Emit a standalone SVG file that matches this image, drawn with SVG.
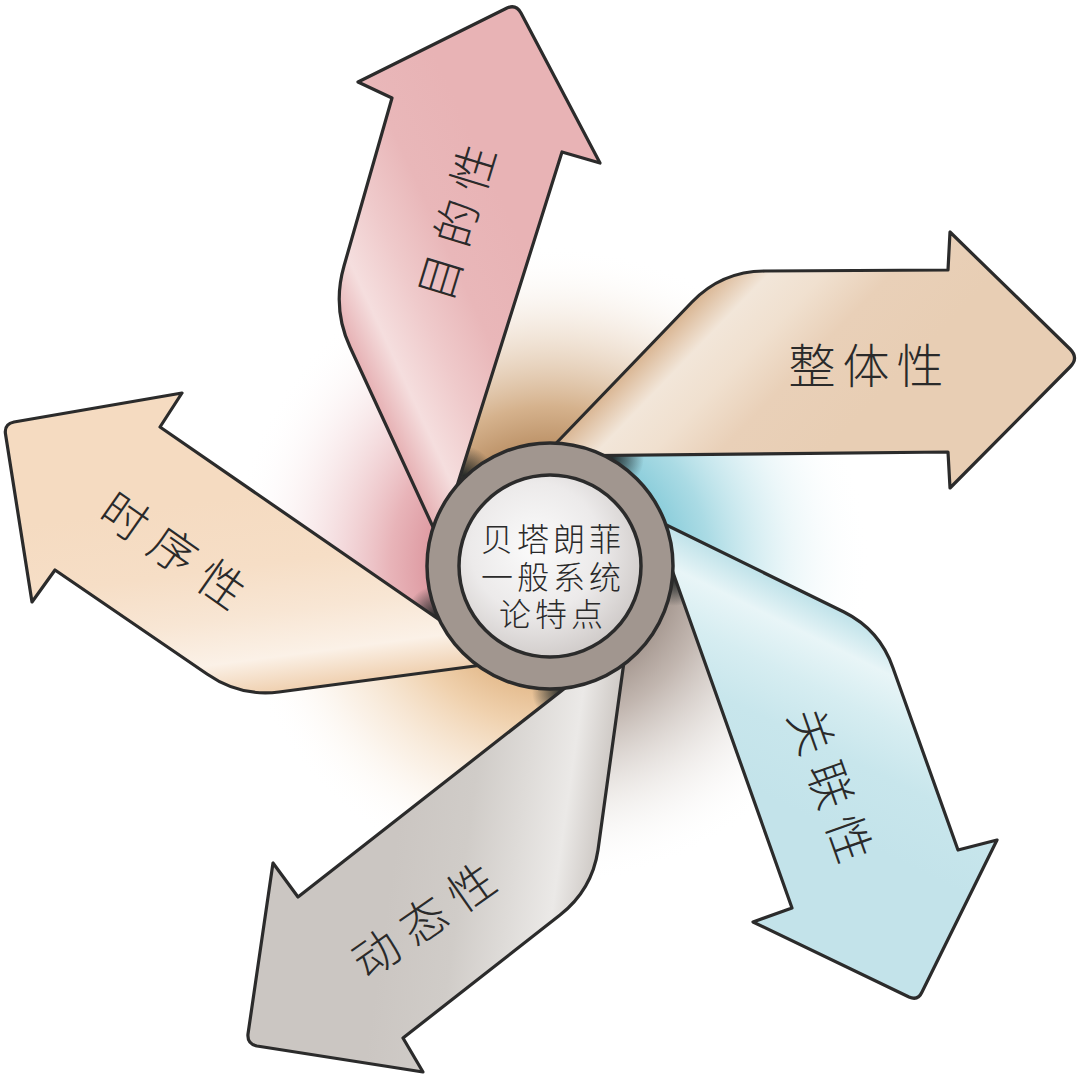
<svg xmlns="http://www.w3.org/2000/svg" width="1080" height="1074" viewBox="0 0 1080 1074">
<defs>
<style>
.arrow{stroke:#2b2b2b;stroke-width:3.2;stroke-linejoin:round}
.lbl{font-family:"Noto Sans CJK SC","Noto Sans CJK JP",sans-serif;font-weight:300;fill:#2a2a2a;text-anchor:middle;dominant-baseline:central}
.ctr{font-family:"Liberation Sans","Noto Sans CJK SC",sans-serif;font-weight:300;fill:#2a2a2a;text-anchor:middle}
.ring{stroke:#2b2b2b;stroke-width:3.5}
</style>
<radialGradient id="gapTan" gradientUnits="userSpaceOnUse" cx="550" cy="566" r="320">
<stop offset="0.36" stop-color="#b98e63"/><stop offset="0.5" stop-color="#d3ae87" stop-opacity="0.95"/><stop offset="0.75" stop-color="#ecdac8" stop-opacity="0.55"/><stop offset="1" stop-color="#ffffff" stop-opacity="0"/>
</radialGradient>
<radialGradient id="gapCyan" gradientUnits="userSpaceOnUse" cx="550" cy="566" r="320">
<stop offset="0.36" stop-color="#86cbd9"/><stop offset="0.5" stop-color="#a6d9e3" stop-opacity="0.95"/><stop offset="0.75" stop-color="#dcf0f4" stop-opacity="0.55"/><stop offset="1" stop-color="#ffffff" stop-opacity="0"/>
</radialGradient>
<radialGradient id="gapGray" gradientUnits="userSpaceOnUse" cx="550" cy="566" r="320">
<stop offset="0.36" stop-color="#a2948c"/><stop offset="0.5" stop-color="#bfb3ac" stop-opacity="0.95"/><stop offset="0.75" stop-color="#e4dfdb" stop-opacity="0.55"/><stop offset="1" stop-color="#ffffff" stop-opacity="0"/>
</radialGradient>
<radialGradient id="gapPeach" gradientUnits="userSpaceOnUse" cx="550" cy="566" r="320">
<stop offset="0.36" stop-color="#e3b98a"/><stop offset="0.5" stop-color="#efcfaa" stop-opacity="0.95"/><stop offset="0.75" stop-color="#f7e7d5" stop-opacity="0.55"/><stop offset="1" stop-color="#ffffff" stop-opacity="0"/>
</radialGradient>
<radialGradient id="gapPink" gradientUnits="userSpaceOnUse" cx="550" cy="566" r="320">
<stop offset="0.36" stop-color="#dc969e"/><stop offset="0.5" stop-color="#e7b0b5" stop-opacity="0.95"/><stop offset="0.75" stop-color="#f4dcde" stop-opacity="0.55"/><stop offset="1" stop-color="#ffffff" stop-opacity="0"/>
</radialGradient>
<radialGradient id="dark">
<stop offset="0" stop-color="#1c2424" stop-opacity="0.95"/><stop offset="0.5" stop-color="#1c2424" stop-opacity="0.5"/><stop offset="1" stop-color="#1c2424" stop-opacity="0"/>
</radialGradient>
<linearGradient id="fZ" gradientUnits="userSpaceOnUse" x1="628" y1="368" x2="772" y2="507">
<stop offset="0" stop-color="#d9b592"/><stop offset="0.18" stop-color="#f2e6d9"/><stop offset="0.38" stop-color="#f0e0cf"/><stop offset="0.62" stop-color="#e9d0b8"/><stop offset="1" stop-color="#e8ceb4"/>
</linearGradient>
<linearGradient id="fM" gradientUnits="userSpaceOnUse" x1="390" y1="435" x2="572" y2="351">
<stop offset="0" stop-color="#e6b0b3"/><stop offset="0.18" stop-color="#f5dede"/><stop offset="0.4" stop-color="#efcacb"/><stop offset="0.65" stop-color="#e9b7b9"/><stop offset="1" stop-color="#e8b3b5"/>
</linearGradient>
<linearGradient id="fS" gradientUnits="userSpaceOnUse" x1="375" y1="680" x2="349" y2="482">
<stop offset="0" stop-color="#efcfae"/><stop offset="0.18" stop-color="#fbf1e7"/><stop offset="0.4" stop-color="#f8e6d4"/><stop offset="0.65" stop-color="#f6dec6"/><stop offset="1" stop-color="#f5dbc1"/>
</linearGradient>
<linearGradient id="fD" gradientUnits="userSpaceOnUse" x1="607" y1="780" x2="409" y2="752">
<stop offset="0" stop-color="#cfcac6"/><stop offset="0.18" stop-color="#ebe9e7"/><stop offset="0.4" stop-color="#dedbd8"/><stop offset="0.65" stop-color="#d0ccc8"/><stop offset="1" stop-color="#cbc6c2"/>
</linearGradient>
<linearGradient id="fG" gradientUnits="userSpaceOnUse" x1="760" y1="571" x2="672" y2="750">
<stop offset="0" stop-color="#bfe2e9"/><stop offset="0.18" stop-color="#e8f5f7"/><stop offset="0.4" stop-color="#d6edf1"/><stop offset="0.65" stop-color="#c8e6ec"/><stop offset="1" stop-color="#c3e3ea"/>
</linearGradient>
<radialGradient id="inner" cx="0.42" cy="0.4" r="0.65">
<stop offset="0" stop-color="#fbfbfb"/><stop offset="0.55" stop-color="#eceaea"/><stop offset="1" stop-color="#cdc8c6"/>
</radialGradient>
</defs>
<rect width="1080" height="1074" fill="#ffffff"/>
<g id="shadows">
<polygon fill="url(#gapTan)" points="550,566 440,490 440,300 500,60 1000,360 700,360 620,440"/>
<polygon fill="url(#gapCyan)" points="550,566 620,440 700,360 1000,360 880,950 780,700 690,570"/>
<polygon fill="url(#gapGray)" points="550,566 690,570 780,700 880,950 330,990 520,850 600,700"/>
<polygon fill="url(#gapPeach)" points="550,566 600,700 520,850 330,990 100,480 300,600 440,640"/>
<polygon fill="url(#gapPink)" points="550,566 440,640 300,600 100,480 500,60 440,300 440,490"/>
<circle cx="464" cy="476" r="30" fill="url(#dark)"/>
<circle cx="612" cy="458" r="32" fill="url(#dark)"/>
<circle cx="675" cy="578" r="28" fill="url(#dark)"/>
<circle cx="562" cy="692" r="30" fill="url(#dark)"/>
<circle cx="436" cy="616" r="30" fill="url(#dark)"/>
</g>
<g id="arrow-zhengti">
<path class="arrow" fill="url(#fZ)" d="M 548,456 L 948,452 L 950,488 L 1070,367 Q 1079,358 1070,349 L 950,232 L 948,270 L 765,271 Q 722,271 692,302 L 540,460 Z"/>
<text class="lbl" font-size="47" x="812 866 920" y="362">整体性</text>
</g>
<g id="arrow-mudi">
<path class="arrow" fill="url(#fM)" d="M 446,521 L 562,152 L 600,163 L 521,13 Q 516,4 507,8 L 358,82 L 392,98 L 344,266 Q 332,308 350,347 L 439,540 Z"/>
<text class="lbl" font-size="46" transform="translate(454,222) rotate(-73)" x="-57 0 57" y="0">目的性</text>
</g>
<g id="arrow-shixu">
<path class="arrow" fill="url(#fS)" d="M 470,641 L 160,427 L 182,393 L 14,422 Q 4,424 5.5,434 L 32,602 L 55,570 L 207,674 Q 240,697 279,692 L 490,664 Z"/>
<text class="lbl" font-size="46" transform="translate(175,548) rotate(35)" x="-59 0 59" y="0">时序性</text>
</g>
<g id="arrow-dongtai">
<path class="arrow" fill="url(#fD)" d="M 597,663 L 298,897 L 273,863 L 248,1034 Q 247,1044 257,1046 L 423,1072 L 403,1038 L 560,915 Q 592,890 598,850 L 627,640 Z"/>
<text class="lbl" font-size="46" transform="translate(422,918) rotate(-35)" x="-58 0 58" y="0">动态性</text>
</g>
<g id="arrow-guanlian">
<path class="arrow" fill="url(#fG)" d="M 665,550 L 792,908 L 753,922 L 909,997 Q 918,1001 922,992 L 997,840 L 958,850 L 893,668 Q 880,630 844,612 L 650,517 Z"/>
<text class="lbl" font-size="46" transform="translate(833,784) rotate(70.5)" x="-57 0 57" y="0">关联性</text>
</g>
<g id="center">
<circle class="ring" cx="550" cy="566" r="123" fill="#a1968f"/>
<circle class="ring" cx="550" cy="566" r="91" fill="url(#inner)"/>
<text class="ctr" font-size="32" x="497 533 569 605" y="551">贝塔朗菲</text>
<text class="ctr" font-size="32" x="497 533 569 605" y="589">一般系统</text>
<text class="ctr" font-size="32" x="515 551 587" y="626">论特点</text>
</g>
</svg>
